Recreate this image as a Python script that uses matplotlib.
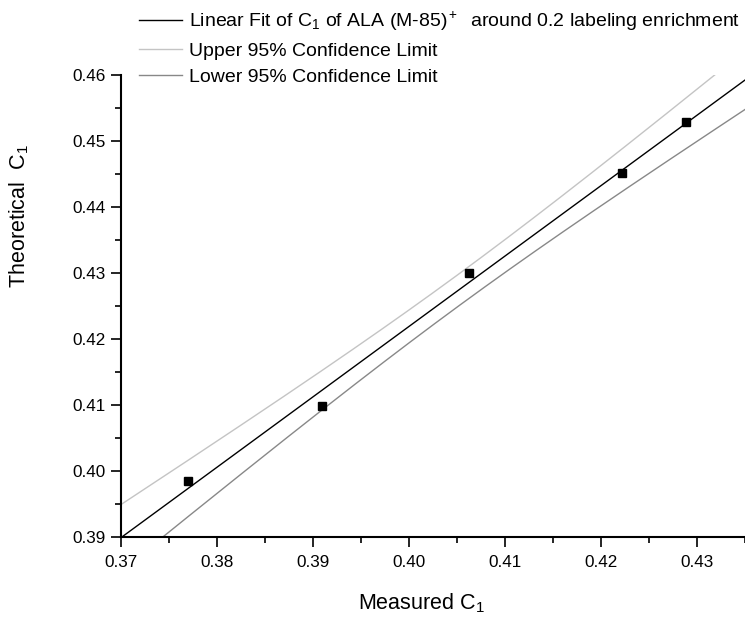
import matplotlib
matplotlib.use('Agg')
import matplotlib.pyplot as plt
import numpy as np
from matplotlib.ticker import MultipleLocator, FormatStrFormatter

# measured vs theoretical C1 values
measured = [0.3770, 0.3909, 0.4063, 0.4222, 0.4289]
theoretical = [0.3985, 0.4099, 0.4300, 0.4452, 0.4529]

fit_label = 'Linear Fit of C$_1$ of ALA (M-85)$^+$  around 0.2 labeling enrichment'
upper_label = 'Upper 95% Confidence Limit'
lower_label = 'Lower 95% Confidence Limit'

x_range = (0.37, 0.435)
y_range = (0.39, 0.46)
t_975 = 3.182  # student t, 3 dof

plt.rcParams['font.family'] = ['Liberation Sans', 'DejaVu Sans']
plt.rcParams['mathtext.fontset'] = 'custom'
plt.rcParams['mathtext.rm'] = 'Liberation Sans'
plt.rcParams['mathtext.it'] = 'Liberation Sans'

fig = plt.figure(figsize=(7.45, 6.22), dpi=100)
ax = fig.add_axes([121 / 745, 85 / 622, 624 / 745, 462 / 622])

# linear fit and 95% confidence band
x = np.array(measured)
y = np.array(theoretical)
n = len(x)
slope, intercept = np.polyfit(x, y, 1)
resid = y - (slope * x + intercept)
s = np.sqrt(np.sum(resid ** 2) / (n - 2))
sxx = np.sum((x - x.mean()) ** 2)
xs = np.linspace(x_range[0], x_range[1], 200)
ys = slope * xs + intercept
half = t_975 * s * np.sqrt(1.0 / n + (xs - x.mean()) ** 2 / sxx)

ax.plot(xs, ys, color='black', lw=1.0, label=fit_label)
ax.plot(xs, ys + half, color='#c4c4c4', lw=1.0, label=upper_label)
ax.plot(xs, ys - half, color='#888888', lw=1.0, label=lower_label)
ax.plot(x, y, 's', color='black', markersize=6.3, zorder=5)

ax.set_xlim(*x_range)
ax.set_ylim(*y_range)
ax.xaxis.set_major_locator(MultipleLocator(0.01))
ax.xaxis.set_minor_locator(MultipleLocator(0.005))
ax.yaxis.set_major_locator(MultipleLocator(0.01))
ax.yaxis.set_minor_locator(MultipleLocator(0.005))
ax.xaxis.set_major_formatter(FormatStrFormatter('%.2f'))
ax.yaxis.set_major_formatter(FormatStrFormatter('%.2f'))

for side in ['top', 'right']:
    ax.spines[side].set_visible(False)
for side in ['left', 'bottom']:
    ax.spines[side].set_linewidth(1.5)
ax.tick_params(which='major', direction='out', length=7, width=1.2, labelsize=12.3)
ax.tick_params(axis='x', which='major', pad=6)
ax.tick_params(axis='y', which='major', pad=4)
ax.tick_params(which='minor', direction='out', length=4, width=1.2)

ax.set_xlabel('Measured C$_1$', fontsize=15.5)
ax.set_ylabel('Theoretical  C$_1$', fontsize=15.5)
ax.xaxis.set_label_coords(0.482, -0.117)
ax.yaxis.set_label_coords(-0.145, 0.695)

fig.legend(loc='upper left', bbox_to_anchor=(139 / 745, 1 - 10 / 622),
           frameon=False, fontsize=14, handlelength=2.2, handletextpad=0.36,
           labelspacing=0.45, borderpad=0, borderaxespad=0)

fig.savefig('out.png', dpi=100)
